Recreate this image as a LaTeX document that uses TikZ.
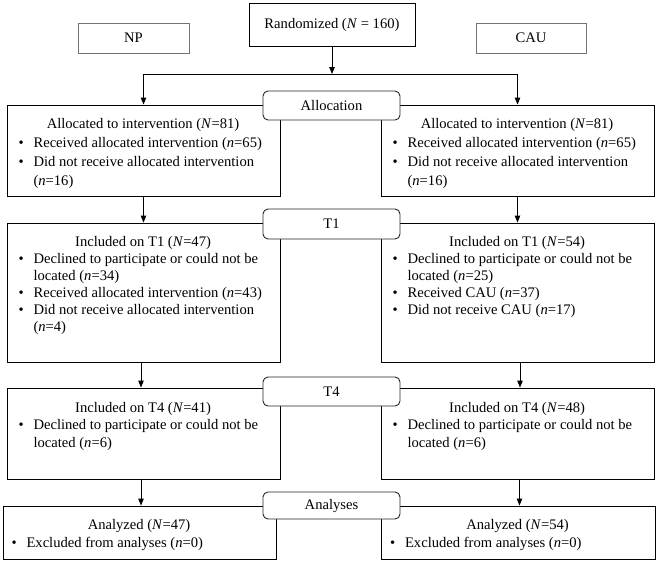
\documentclass[tikz,border=0pt]{standalone}
\usepackage{fontspec}
\setmainfont{Liberation Serif}
\usetikzlibrary{calc,arrows.meta}
\newcommand\bl{\makebox[15pt][l]{\textbullet}}
\newcommand\ind{\hspace*{15pt}}
\newcommand\boxcontent[5]{\parbox[t]{#1pt}{\fontsize{14.6}{#3}\selectfont\centering #4\par\raggedright\leftskip=#2pt\relax #5}}
\begin{document}
\begin{tikzpicture}[x=1pt,y=-1pt,
  box/.style={draw=black, line width=0.9pt, inner sep=0pt, fill=white},
  topbox/.style={draw=black!55, line width=0.9pt, inner sep=0pt, fill=white, font=\fontsize{14.6}{17}\selectfont},
  stage/.style={draw=black!85, line width=0.9pt, rounded corners=5pt, inner sep=0pt, fill=white,
    minimum width=137pt, font=\fontsize{14.6}{17}\selectfont},
  txt/.style={anchor=base west, inner sep=0pt, outer sep=0pt},
  arr/.style={-{Triangle[length=7pt,width=5.5pt]}, line width=0.9pt},
  line/.style={line width=0.9pt}]
\useasboundingbox (0,0) rectangle (658,563);

% top boxes
\node[box, minimum width=166pt, minimum height=43pt, font=\fontsize{14.6}{17}\selectfont] (rand) at (332,24.5) {Randomized (\textit{N} = 160)};
\node[topbox, minimum width=111pt, minimum height=30pt] (np) at (133.5,38) {NP};
\node[topbox, minimum width=110pt, minimum height=30pt] (cau) at (531,38) {CAU};

% main boxes
\node[box, minimum width=273pt, minimum height=91pt] (l1) at (143.5,150.5) {};
\node[box, minimum width=273pt, minimum height=91pt] (r1) at (517.5,150.5) {};
\node[box, minimum width=273pt, minimum height=139pt] (l2) at (143.5,292.5) {};
\node[box, minimum width=273pt, minimum height=139pt] (r2) at (517.5,292.5) {};
\node[box, minimum width=273pt, minimum height=91pt] (l3) at (143.5,433.5) {};
\node[box, minimum width=273pt, minimum height=91pt] (r3) at (517.5,433.5) {};
\node[box, minimum width=273pt, minimum height=53pt] (l4) at (139.5,532.5) {};
\node[box, minimum width=274pt, minimum height=53pt] (r4) at (518,532.5) {};

% contents
\node[txt] (cl1) at ($(l1.north west)+(0,23.5)$) {\boxcontent{273}{12}{19.3}{Allocated to intervention (\textit{N}=81)}{\bl Received allocated intervention (\textit{n}=65)\par\bl Did not receive allocated intervention\par\ind(\textit{n}=16)}};
\node[txt] (cr1) at ($(r1.north west)+(0,23.5)$) {\boxcontent{273}{12}{19.3}{Allocated to intervention (\textit{N}=81)}{\bl Received allocated intervention (\textit{n}=65)\par\bl Did not receive allocated intervention\par\ind(\textit{n}=16)}};
\node[txt] (cl2) at ($(l2.north west)+(0,23.5)$) {\boxcontent{273}{12}{17}{Included on T1 (\textit{N}=47)}{\bl Declined to participate or could not be\par\ind located (\textit{n}=34)\par\bl Received allocated intervention (\textit{n}=43)\par\bl Did not receive allocated intervention\par\ind(\textit{n}=4)}};
\node[txt] (cr2) at ($(r2.north west)+(0,23.5)$) {\boxcontent{273}{12}{17}{Included on T1 (\textit{N}=54)}{\bl Declined to participate or could not be\par\ind located (\textit{n}=25)\par\bl Received CAU (\textit{n}=37)\par\bl Did not receive CAU (\textit{n}=17)}};
\node[txt] (cl3) at ($(l3.north west)+(0,24.5)$) {\boxcontent{273}{12}{17.5}{Included on T4 (\textit{N}=41)}{\bl Declined to participate or could not be\par\ind located (\textit{n}=6)}};
\node[txt] (cr3) at ($(r3.north west)+(0,24.5)$) {\boxcontent{273}{12}{17.5}{Included on T4 (\textit{N}=48)}{\bl Declined to participate or could not be\par\ind located (\textit{n}=6)}};
\node[txt] (cl4) at ($(l4.north west)+(0,23.5)$) {\boxcontent{273}{9}{18}{Analyzed (\textit{N}=47)}{\bl Excluded from analyses (\textit{n}=0)}};
\node[txt] (cr4) at ($(r4.north west)+(0,23.5)$) {\boxcontent{274}{9.5}{18}{Analyzed (\textit{N}=54)}{\bl Excluded from analyses (\textit{n}=0)}};

% stage labels
\node[stage, minimum height=29pt] (alloc) at (331.5,105.5) {Allocation};
\node[stage, minimum height=30pt] (t1) at (331.5,224) {T1};
\node[stage, minimum height=29pt] (t4) at (331.5,391.5) {T4};
\node[stage, minimum height=27pt] (an) at (331.5,505.5) {Analyses};

% connectors
\coordinate (split) at (332,74);
\coordinate (sl) at (143.5,74);
\coordinate (sr) at (517.5,74);
\draw[arr] (rand.south) -- (split);
\draw[line] (sl) -- (sr);
\draw[arr] (sl) -- (l1.north);
\draw[arr] (sr) -- (r1.north);
\draw[arr] (l1.south) -- (l2.north);
\draw[arr] (r1.south) -- (r2.north);
\draw[arr] ([xshift=-2.5pt]l2.south) -- ([xshift=-2.5pt]l3.north);
\draw[arr] ([xshift=2.5pt]r2.south) -- ([xshift=2.5pt]r3.north);
\draw[arr] ([xshift=-2.5pt]l3.south) -- ([xshift=1.5pt]l4.north);
\draw[arr] ([xshift=2pt]r3.south) -- ([xshift=1.5pt]r4.north);
\end{tikzpicture}
\end{document}
